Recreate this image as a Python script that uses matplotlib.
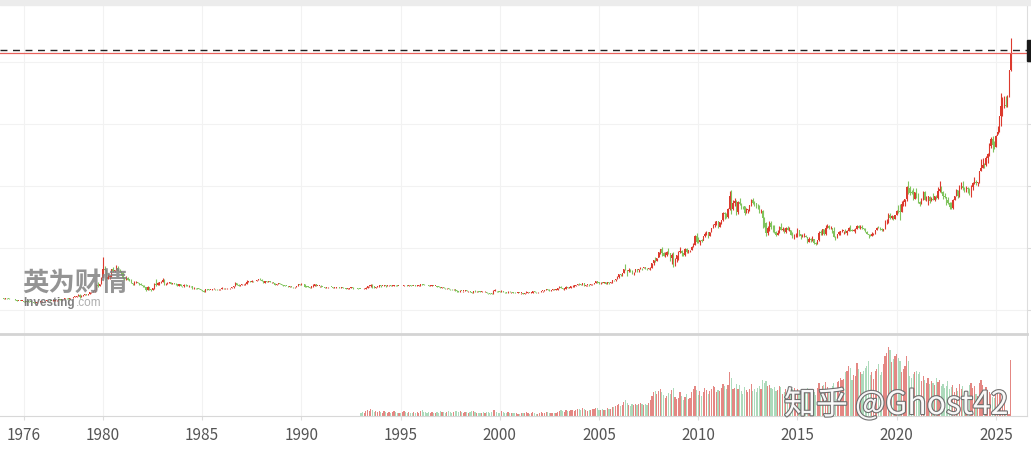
import numpy as np
import matplotlib
matplotlib.use("Agg")
import matplotlib.pyplot as plt
import matplotlib.patheffects as pe
from matplotlib.patches import Rectangle

plt.rcParams['font.family'] = ['Noto Sans CJK SC', 'DejaVu Sans']

# monthly gold price (USD/oz), one row per year, Jan 1975 .. Oct 2025
first_open = 186
closes = [
    [175, 181, 178, 167, 167, 166, 166, 160, 141, 143, 139, 140],  # 1975
    [128, 132, 129, 128, 126, 124, 112, 104, 116, 123, 130, 134],
    [132, 142, 149, 148, 143, 143, 145, 146, 154, 162, 160, 165],
    [175, 182, 181, 170, 184, 183, 200, 208, 218, 242, 194, 226],
    [233, 251, 240, 245, 275, 277, 296, 315, 397, 382, 415, 512],
    [653, 637, 494, 518, 535, 653, 614, 631, 666, 629, 619, 590],  # 1980
    [506, 489, 514, 482, 480, 426, 407, 425, 428, 427, 414, 400],
    [387, 362, 320, 361, 325, 317, 342, 411, 397, 423, 436, 448],
    [481, 408, 414, 429, 437, 416, 422, 414, 405, 382, 405, 382],
    [373, 394, 388, 375, 384, 373, 342, 348, 343, 333, 329, 309],
    [306, 288, 325, 322, 315, 317, 327, 334, 326, 325, 325, 327],  # 1985
    [345, 339, 345, 346, 343, 345, 357, 385, 424, 402, 385, 391],
    [405, 406, 419, 451, 451, 447, 462, 453, 459, 469, 492, 484],
    [458, 426, 457, 449, 455, 437, 437, 432, 396, 412, 422, 410],
    [394, 387, 383, 378, 362, 373, 368, 359, 367, 376, 408, 401],
    [415, 407, 368, 367, 363, 352, 372, 387, 408, 380, 384, 386],  # 1990
    [366, 363, 355, 357, 360, 368, 362, 347, 354, 357, 366, 353],
    [354, 353, 341, 336, 337, 343, 357, 340, 349, 339, 334, 333],
    [329, 327, 338, 355, 378, 378, 401, 372, 355, 369, 370, 391],
    [378, 381, 389, 376, 388, 388, 384, 385, 395, 389, 383, 383],
    [375, 376, 392, 389, 385, 387, 384, 383, 384, 383, 387, 387],  # 1995
    [405, 400, 396, 392, 391, 382, 385, 387, 379, 379, 371, 369],
    [345, 358, 348, 340, 345, 334, 326, 325, 332, 311, 296, 290],
    [304, 297, 301, 310, 293, 296, 288, 273, 294, 292, 294, 288],
    [287, 287, 280, 286, 268, 261, 256, 255, 299, 299, 292, 290],
    [283, 294, 277, 275, 273, 289, 277, 278, 274, 264, 270, 274],  # 2000
    [265, 267, 258, 264, 267, 271, 265, 273, 294, 279, 275, 277],
    [282, 297, 301, 309, 326, 318, 305, 313, 324, 317, 319, 347],
    [368, 348, 334, 337, 361, 346, 354, 375, 385, 386, 398, 416],
    [400, 396, 427, 387, 394, 395, 391, 408, 416, 428, 453, 438],
    [423, 435, 428, 436, 417, 436, 429, 433, 473, 470, 496, 518],  # 2005
    [569, 556, 582, 654, 643, 614, 633, 623, 598, 604, 646, 632],
    [651, 665, 662, 679, 659, 650, 666, 673, 743, 795, 783, 834],
    [923, 972, 916, 865, 885, 928, 913, 833, 884, 718, 814, 884],
    [928, 942, 916, 884, 979, 927, 954, 955, 1001, 1040, 1182, 1096],
    [1081, 1118, 1113, 1180, 1213, 1244, 1181, 1248, 1307, 1357, 1384, 1421],  # 2010
    [1332, 1409, 1439, 1556, 1536, 1500, 1628, 1827, 1620, 1722, 1746, 1566],
    [1737, 1697, 1669, 1664, 1558, 1604, 1614, 1692, 1773, 1719, 1712, 1675],
    [1664, 1578, 1597, 1472, 1394, 1234, 1313, 1395, 1327, 1323, 1250, 1202],
    [1240, 1326, 1284, 1296, 1250, 1322, 1282, 1287, 1210, 1171, 1182, 1184],
    [1283, 1213, 1183, 1183, 1190, 1172, 1095, 1134, 1115, 1142, 1065, 1061],  # 2015
    [1117, 1238, 1234, 1293, 1215, 1322, 1350, 1309, 1316, 1273, 1173, 1151],
    [1211, 1249, 1249, 1268, 1268, 1242, 1269, 1322, 1280, 1271, 1275, 1303],
    [1345, 1318, 1325, 1315, 1299, 1253, 1224, 1201, 1192, 1215, 1222, 1282],
    [1321, 1313, 1292, 1284, 1305, 1409, 1414, 1520, 1472, 1513, 1464, 1517],
    [1589, 1586, 1577, 1694, 1730, 1781, 1975, 1967, 1886, 1879, 1776, 1895],  # 2020
    [1848, 1734, 1708, 1769, 1903, 1770, 1814, 1814, 1757, 1783, 1774, 1829],
    [1797, 1909, 1937, 1897, 1837, 1807, 1766, 1711, 1661, 1633, 1768, 1824],
    [1928, 1827, 1969, 1990, 1962, 1919, 1965, 1940, 1849, 1983, 2036, 2063],
    [2040, 2044, 2230, 2286, 2327, 2326, 2447, 2503, 2634, 2744, 2650, 2625],
    [2798, 2858, 3123, 3288, 3289, 3303, 3290, 3448, 3858, 4130],  # 2025
]
highs = [
    [186, 183, 182, 178, 170, 168, 168, 167, 160, 145, 143, 141],
    [141, 133, 133, 130, 129, 127, 125, 112, 118, 125, 132, 135],
    [136, 143, 150, 150, 149, 144, 146, 147, 155, 164, 163, 166],
    [176, 184, 190, 182, 185, 186, 201, 215, 220, 243, 245, 227],
    [238, 253, 252, 247, 276, 283, 304, 316, 412, 445, 417, 524],
    [850, 700, 640, 565, 560, 653, 680, 640, 720, 695, 650, 620],
    [599, 510, 540, 520, 495, 488, 430, 460, 460, 447, 430, 420],
    [403, 390, 365, 373, 360, 335, 355, 420, 500, 440, 450, 459],
    [510, 497, 428, 439, 447, 438, 430, 425, 422, 408, 409, 404],
    [384, 405, 405, 392, 400, 385, 374, 358, 350, 347, 350, 332],
    [314, 310, 335, 330, 330, 320, 330, 342, 334, 332, 330, 331],
    [359, 350, 352, 350, 350, 347, 358, 387, 444, 428, 408, 392],
    [412, 410, 422, 470, 464, 455, 474, 467, 463, 482, 500, 502],
    [485, 460, 458, 458, 462, 458, 445, 440, 432, 413, 430, 425],
    [412, 394, 394, 385, 380, 374, 379, 370, 369, 377, 410, 418],
    [423, 418, 408, 377, 373, 364, 373, 413, 415, 409, 386, 386],
    [395, 368, 363, 359, 361, 371, 369, 362, 356, 362, 367, 368],
    [356, 360, 353, 341, 342, 345, 360, 357, 350, 350, 341, 336],
    [333, 332, 339, 357, 379, 378, 409, 405, 369, 371, 380, 394],
    [392, 385, 392, 390, 390, 394, 390, 388, 398, 395, 390, 385],
    [384, 380, 396, 394, 390, 390, 389, 387, 387, 388, 389, 390],
    [418, 418, 404, 398, 394, 391, 390, 389, 387, 384, 385, 378],
    [368, 364, 360, 350, 350, 347, 335, 330, 336, 333, 312, 299],
    [307, 305, 303, 313, 310, 297, 297, 290, 297, 312, 299, 298],
    [294, 291, 290, 292, 289, 272, 261, 261, 317, 338, 302, 294],
    [292, 313, 298, 284, 282, 294, 291, 282, 278, 275, 272, 275],
    [273, 270, 270, 265, 294, 276, 270, 276, 294, 294, 280, 280],
    [286, 302, 302, 309, 328, 330, 327, 315, 326, 325, 325, 350],
    [372, 384, 353, 342, 372, 367, 366, 377, 390, 396, 400, 416],
    [430, 417, 430, 430, 397, 400, 404, 416, 417, 433, 456, 456],
    [441, 439, 446, 438, 436, 441, 437, 447, 474, 480, 497, 541],
    [574, 573, 587, 654, 731, 643, 665, 652, 636, 612, 648, 647],
    [656, 690, 671, 693, 689, 670, 677, 678, 745, 799, 845, 838],
    [932, 975, 1012, 924, 921, 941, 986, 914, 911, 935, 826, 881],
    [941, 1006, 958, 917, 989, 991, 959, 964, 1022, 1070, 1196, 1227],
    [1162, 1127, 1130, 1180, 1249, 1266, 1213, 1254, 1307, 1387, 1424, 1431],
    [1424, 1411, 1447, 1575, 1577, 1556, 1631, 1911, 1920, 1761, 1803, 1764],
    [1745, 1792, 1720, 1677, 1666, 1640, 1626, 1693, 1790, 1796, 1755, 1724],
    [1697, 1680, 1617, 1598, 1487, 1417, 1348, 1434, 1435, 1361, 1361, 1268],
    [1280, 1345, 1392, 1331, 1315, 1326, 1345, 1323, 1287, 1256, 1221, 1238],
    [1307, 1287, 1220, 1225, 1232, 1205, 1174, 1170, 1157, 1191, 1143, 1088],
    [1128, 1263, 1283, 1306, 1303, 1362, 1375, 1367, 1344, 1318, 1338, 1183],
    [1220, 1264, 1261, 1295, 1270, 1296, 1275, 1330, 1357, 1306, 1299, 1307],
    [1366, 1361, 1356, 1369, 1318, 1309, 1265, 1218, 1214, 1243, 1237, 1284],
    [1326, 1346, 1324, 1310, 1306, 1439, 1452, 1555, 1557, 1518, 1516, 1524],
    [1611, 1689, 1704, 1747, 1765, 1789, 1985, 2075, 1992, 1933, 1966, 1896],
    [1959, 1872, 1755, 1798, 1913, 1916, 1832, 1834, 1836, 1814, 1877, 1831],
    [1853, 1974, 2070, 1998, 1910, 1880, 1814, 1807, 1735, 1730, 1786, 1833],
    [1949, 1925, 2009, 2049, 2079, 1984, 1987, 1972, 1953, 2009, 2052, 2135],
    [2088, 2055, 2236, 2431, 2450, 2369, 2483, 2531, 2685, 2790, 2802, 2726],
    [2817, 2956, 3128, 3500, 3435, 3451, 3439, 3453, 3871, 4381],
]
lows = [
    [172, 173, 175, 165, 163, 162, 164, 158, 130, 140, 138, 137],
    [125, 127, 128, 126, 124, 122, 110, 103, 103, 115, 122, 129],
    [130, 131, 141, 146, 142, 140, 142, 143, 145, 153, 158, 159],
    [164, 172, 177, 167, 169, 180, 182, 198, 206, 216, 193, 194],
    [216, 232, 234, 232, 244, 270, 276, 290, 313, 360, 380, 415],
    [520, 630, 474, 490, 500, 532, 610, 600, 630, 620, 600, 558],
    [500, 470, 484, 480, 460, 420, 390, 400, 420, 420, 393, 392],
    [370, 360, 297, 320, 318, 297, 315, 333, 385, 400, 400, 429],
    [445, 398, 398, 410, 424, 406, 410, 408, 400, 372, 378, 380],
    [362, 366, 386, 373, 370, 366, 335, 338, 336, 330, 325, 307],
    [300, 285, 285, 315, 310, 310, 315, 325, 318, 320, 320, 320],
    [326, 335, 330, 337, 340, 337, 340, 354, 383, 400, 380, 385],
    [390, 397, 400, 418, 447, 440, 445, 450, 452, 458, 470, 480],
    [455, 423, 424, 448, 445, 437, 430, 427, 395, 395, 410, 407],
    [392, 384, 380, 374, 358, 358, 366, 354, 355, 365, 375, 399],
    [398, 405, 366, 365, 359, 346, 352, 370, 385, 375, 376, 370],
    [365, 359, 354, 354, 355, 357, 362, 345, 347, 353, 356, 352],
    [350, 352, 340, 337, 335, 337, 343, 338, 340, 339, 330, 330],
    [326, 326, 325, 337, 353, 363, 370, 353, 350, 352, 364, 370],
    [371, 374, 379, 369, 374, 382, 380, 375, 385, 385, 379, 375],
    [372, 373, 375, 388, 383, 385, 382, 380, 380, 381, 382, 386],
    [387, 398, 394, 390, 390, 380, 382, 384, 378, 378, 370, 367],
    [342, 340, 346, 337, 338, 335, 318, 320, 317, 306, 290, 283],
    [278, 293, 286, 301, 292, 285, 287, 272, 273, 290, 288, 283],
    [284, 282, 278, 278, 267, 257, 252, 253, 254, 294, 289, 282],
    [281, 282, 277, 272, 268, 270, 276, 270, 270, 264, 263, 268],
    [262, 256, 256, 255, 265, 264, 262, 264, 270, 276, 271, 272],
    [277, 281, 289, 301, 307, 313, 300, 303, 312, 314, 316, 318],
    [345, 346, 323, 321, 335, 343, 342, 352, 369, 367, 377, 397],
    [398, 391, 390, 386, 375, 383, 387, 390, 401, 413, 424, 434],
    [419, 411, 424, 423, 414, 415, 418, 429, 432, 458, 464, 491],
    [512, 541, 537, 583, 645, 543, 610, 611, 565, 560, 604, 613],
    [600, 646, 636, 666, 653, 640, 648, 645, 670, 723, 774, 782],
    [845, 894, 871, 859, 853, 857, 903, 786, 737, 681, 705, 764],
    [803, 916, 862, 866, 867, 915, 906, 931, 960, 1002, 1040, 1080],
    [1075, 1045, 1087, 1116, 1165, 1200, 1157, 1183, 1244, 1314, 1330, 1358],
    [1319, 1330, 1381, 1420, 1462, 1477, 1478, 1600, 1535, 1604, 1667, 1523],
    [1541, 1690, 1627, 1628, 1527, 1552, 1563, 1592, 1663, 1694, 1673, 1635],
    [1626, 1555, 1564, 1321, 1338, 1180, 1207, 1271, 1291, 1251, 1232, 1182],
    [1202, 1238, 1281, 1268, 1241, 1240, 1280, 1274, 1206, 1160, 1132, 1170],
    [1167, 1190, 1142, 1175, 1169, 1162, 1077, 1084, 1097, 1106, 1052, 1046],
    [1062, 1110, 1206, 1208, 1200, 1207, 1310, 1302, 1302, 1241, 1171, 1122],
    [1146, 1207, 1195, 1243, 1214, 1240, 1204, 1264, 1274, 1262, 1266, 1236],
    [1302, 1307, 1303, 1302, 1282, 1250, 1211, 1160, 1180, 1183, 1196, 1221],
    [1276, 1311, 1281, 1266, 1268, 1295, 1382, 1400, 1459, 1459, 1446, 1454],
    [1517, 1563, 1451, 1568, 1670, 1671, 1757, 1863, 1849, 1860, 1765, 1775],
    [1802, 1717, 1677, 1706, 1769, 1761, 1750, 1687, 1721, 1746, 1759, 1753],
    [1780, 1781, 1890, 1872, 1787, 1805, 1681, 1709, 1615, 1617, 1616, 1765],
    [1823, 1805, 1810, 1950, 1932, 1893, 1903, 1884, 1846, 1810, 1931, 2017],
    [2002, 1985, 2040, 2228, 2277, 2286, 2320, 2364, 2472, 2603, 2537, 2583],
    [2614, 2833, 2860, 2957, 3121, 3248, 3268, 3268, 3436, 3850],
]
# monthly volume (relative units), Jan 1993 .. Oct 2025
vol_start = 1993
volumes = [
    [3, 4, 3, 5, 6, 5, 7, 6, 4, 5, 4, 5],  # 1993
    [4, 3, 5, 4, 3, 4, 3, 4, 5, 4, 3, 3],
    [3, 4, 5, 4, 3, 4, 3, 3, 4, 3, 4, 3],
    [5, 6, 4, 4, 3, 4, 3, 4, 3, 3, 4, 3],
    [5, 4, 4, 3, 4, 5, 4, 3, 4, 5, 5, 4],
    [5, 4, 3, 4, 4, 3, 4, 5, 5, 4, 3, 3],  # 1998
    [3, 3, 4, 3, 4, 4, 3, 4, 6, 6, 4, 3],
    [3, 5, 4, 3, 3, 4, 3, 3, 3, 3, 3, 2],
    [2, 3, 3, 3, 4, 3, 2, 3, 4, 3, 2, 2],
    [3, 4, 3, 3, 4, 4, 3, 3, 3, 3, 3, 4],
    [5, 6, 5, 4, 6, 5, 5, 6, 6, 5, 6, 7],  # 2003
    [7, 6, 8, 7, 6, 5, 6, 6, 7, 7, 8, 8],
    [6, 6, 7, 6, 6, 8, 7, 7, 9, 9, 10, 11],
    [12, 10, 11, 14, 16, 13, 11, 10, 12, 11, 12, 11],
    [12, 13, 12, 11, 12, 11, 13, 16, 20, 24, 25, 22],
    [25, 27, 24, 21, 18, 20, 23, 22, 26, 28, 19, 17],  # 2008
    [18, 24, 20, 16, 19, 22, 17, 18, 24, 27, 30, 26],
    [21, 25, 20, 24, 28, 26, 22, 25, 27, 30, 29, 24],
    [26, 25, 28, 32, 30, 27, 31, 44, 38, 27, 28, 32],
    [27, 31, 25, 22, 29, 26, 24, 27, 32, 25, 27, 24],
    [28, 30, 27, 36, 33, 35, 30, 31, 28, 27, 29, 25],  # 2013
    [26, 30, 29, 22, 24, 27, 22, 21, 26, 27, 28, 22],
    [27, 25, 22, 21, 24, 23, 28, 27, 23, 25, 24, 21],
    [28, 33, 26, 30, 31, 34, 29, 26, 22, 30, 33, 28],
    [34, 35, 38, 36, 37, 44, 45, 50, 48, 36, 41, 40],
    [53, 47, 44, 42, 45, 48, 50, 55, 41, 44, 37, 45],  # 2018
    [47, 52, 41, 44, 52, 60, 63, 69, 66, 54, 57, 60],
    [62, 58, 55, 44, 47, 50, 60, 55, 40, 38, 42, 44],
    [45, 42, 44, 35, 40, 36, 33, 38, 32, 35, 33, 31],
    [38, 34, 36, 30, 32, 28, 30, 35, 27, 29, 31, 24],
    [28, 25, 32, 27, 30, 24, 25, 22, 31, 33, 28, 30],  # 2023
    [22, 20, 33, 36, 31, 23, 29, 26, 24, 22, 19, 18],
    [26, 24, 22, 25, 21, 20, 2, 2, 2, 56],
]

x_ticks = [1976, 1980, 1985, 1990, 1995, 2000, 2005, 2010, 2015, 2020, 2025]
price_grid = [0, 1000, 2000, 3000, 4000]
last_price = 4130
marker_price = 4185

c = np.array([v for row in closes for v in row], dtype=float)
h = np.array([v for row in highs for v in row], dtype=float)
l = np.array([v for row in lows for v in row], dtype=float)
o = np.concatenate([[first_open], c[:-1]])
t = 1975 + np.arange(len(c)) / 12.0
up = c >= o

vol = np.array([v for row in volumes for v in row], dtype=float)
tv = vol_start + np.arange(len(vol)) / 12.0
vup = up[(vol_start - 1975) * 12:(vol_start - 1975) * 12 + len(vol)]

RED = '#dc3a2e'
GREEN = '#80c45e'

W, H = 1031, 450
fig = plt.figure(figsize=(W / 100, H / 100), dpi=100)
fig.patch.set_facecolor('white')
ax = fig.add_axes([0, (H - 334) / H, 1027 / W, (334 - 5) / H])
axv = fig.add_axes([0, (H - 416) / H, 1027 / W, (416 - 334) / H], sharex=ax)

# top shadow strip
fig.patches.append(Rectangle((0, (H - 5) / H), 1, 5 / H, transform=fig.transFigure,
                             color='#ececec', zorder=0))

# candles
body_h = np.maximum(np.abs(c - o), 10)
ax.vlines(t, l, h, colors=np.where(up, RED, GREEN), lw=0.8, zorder=3)
ax.bar(t, body_h, bottom=np.minimum(o, c), width=0.055,
       color=np.where(up, RED, GREEN), linewidth=0, zorder=4)

ax.axhline(marker_price, color='#222222', lw=1.0, ls=(0, (5, 4)), zorder=5)
ax.axhline(last_price, color='#e8605a', lw=0.9, zorder=5)

ax.set_xlim(1974.81, 2026.57)
ax.set_ylim(-395, 4912)
ax.set_yticks(price_grid)
ax.set_xticks(x_ticks)
ax.grid(True, color='#f2f2f2', lw=0.8)
ax.set_axisbelow(True)
ax.yaxis.tick_right()
ax.tick_params(axis='y', right=True, labelright=False, length=3, color='#dddddd', direction='out')
ax.tick_params(axis='x', bottom=False, labelbottom=False)
for s in ['top', 'left', 'bottom']:
    ax.spines[s].set_visible(False)
ax.spines['right'].set_color('#dddddd')

# volume bars
axv.bar(tv, vol, width=0.06, color=np.where(vup, '#e27a76', '#a3d6b4'),
        alpha=0.9, linewidth=0)
axv.set_ylim(0, 82)
axv.set_yticks([])
axv.grid(True, axis='x', color='#f2f2f2', lw=0.8)
axv.set_axisbelow(True)
axv.set_xticks(x_ticks)
axv.set_xticklabels([str(y) for y in x_ticks])
axv.tick_params(axis='x', length=3, color='#dddddd', pad=5, labelsize=11, labelcolor='#555555')
axv.spines['top'].set_color('#d4d4d4')
axv.spines['top'].set_linewidth(2)
axv.spines['bottom'].set_color('#d8d8d8')
axv.spines['left'].set_visible(False)
axv.spines['right'].set_color('#dddddd')

# price label box at the right edge (cut off)
fig.patches.append(Rectangle((1027 / W, (H - 61) / H), 5 / W, 21 / H,
                             transform=fig.transFigure, color='#1a1a1a', zorder=6))

# watermarks
fig.text(22 / W, (H - 284) / H, '英为财情', fontsize=19, fontweight='bold',
         color='#828282', alpha=0.85, va='center', ha='left')
fig.text(23 / W, (H - 303) / H, 'Investing', fontsize=8.5, fontweight='bold',
         color='#6a6a6a', alpha=0.85, va='center', ha='left', family='Liberation Sans')
fig.text(76 / W, (H - 303) / H, '.com', fontsize=8.5,
         color='#a0a0a0', alpha=0.85, va='center', ha='left', family='Liberation Sans')
fig.text(784 / W, (H - 405) / H, '知乎 @Ghost42', fontsize=23, color='white',
         alpha=0.95, va='center', ha='left',
         path_effects=[pe.withStroke(linewidth=1.6, foreground='#6a6a6a')])

fig.savefig('out.png', dpi=100)
